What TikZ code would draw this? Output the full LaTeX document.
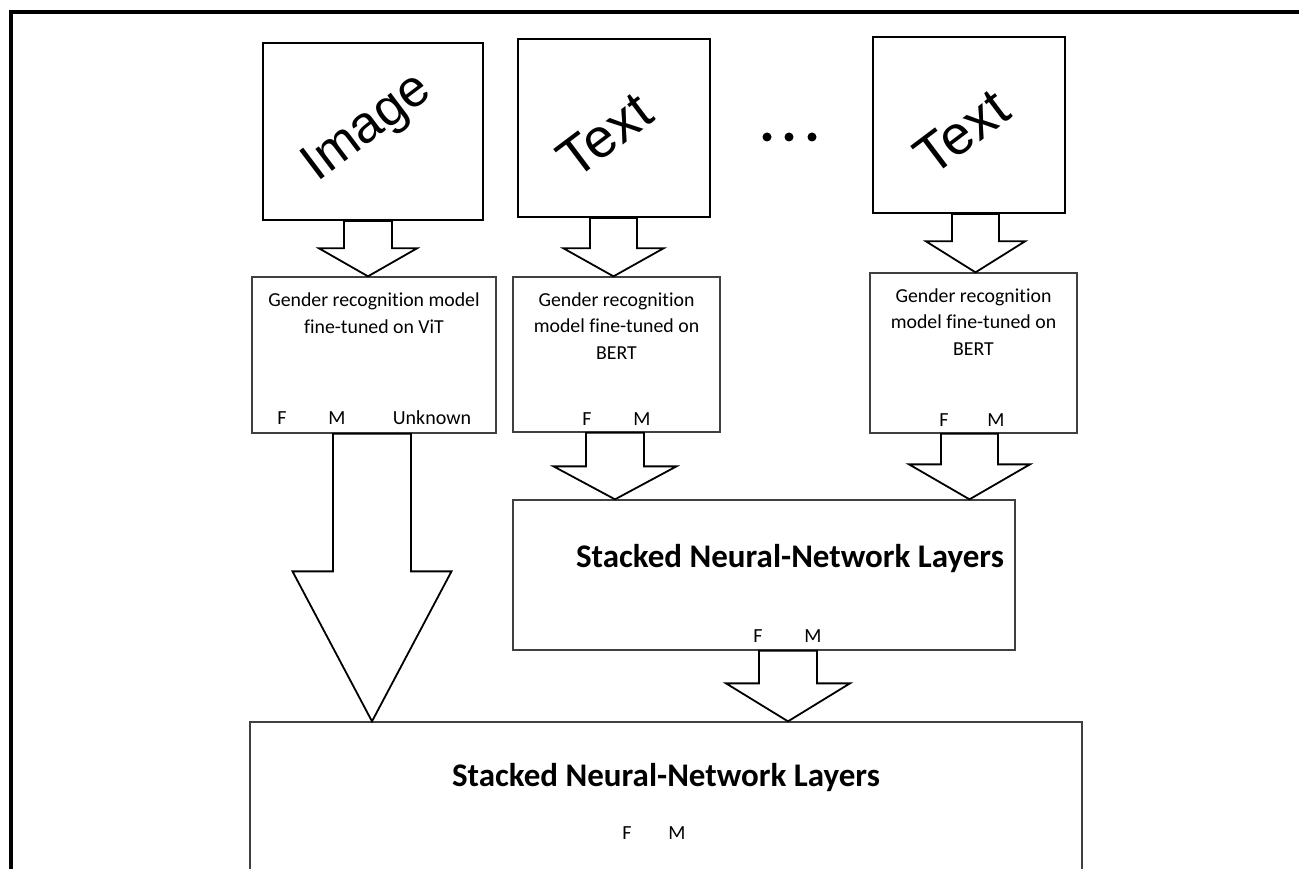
\documentclass[tikz,border=0pt]{standalone}
\usepackage{fontspec}
\setmainfont[Ligatures=NoCommon]{Carlito}
\newfontfamily\arialfont{Liberation Sans}
\usetikzlibrary{calc}

\tikzset{
  srcbox/.style={draw=black, line width=2pt, fill=white, inner sep=0pt},
  modelbox/.style={draw=black!75, line width=1.3pt, fill=white, inner sep=0pt},
  stackbox/.style={draw=black!75, line width=1.3pt, fill=white, inner sep=0pt},
  fatarr/.style={draw=black, line width=1.8pt, fill=white, line join=miter},
  bigword/.style={font=\arialfont\fontsize{#1}{60}\selectfont, rotate=37, inner sep=0pt},
  modeltxt/.style={font=\fontsize{19.8}{26.5}\selectfont, align=center, text=black, inner sep=0pt},
  outlbl/.style={font=\fontsize{20}{22}\selectfont, text=black, inner sep=0pt},
  stacktxt/.style={font=\bfseries\fontsize{33}{38}\selectfont, inner sep=0pt},
  dot/.style={circle, fill=black, inner sep=0pt, minimum size=9pt},
  frame/.style={line width=3.5pt, draw=black}
}

% block arrow: #1 source node, #2 target node, #3 centre x,
% #4 half shaft width, #5 half head width, #6 head length
\newcommand\fatarrow[6]{%
  \draw[fatarr]
    ($(#1.south -| #3,0)+(-#4,0)$) --
    ($(#2.north -| #3,0)+(-#4,-#6)$) --
    ($(#2.north -| #3,0)+(-#5,-#6)$) --
    (#2.north -| #3,0) --
    ($(#2.north -| #3,0)+(#5,-#6)$) --
    ($(#2.north -| #3,0)+(#4,-#6)$) --
    ($(#1.south -| #3,0)+(#4,0)$) -- cycle;}

\begin{document}
\begin{tikzpicture}[x=1pt, y=-1pt]
  \useasboundingbox (0,0) rectangle (1299,869);
  \clip (0,0) rectangle (1299,869);
  \fill[white] (0,0) rectangle (1299,869);

  % page frame
  \draw[frame] (11,900) -- (11,12) -- (1320,12);

  % inputs
  \node[srcbox, minimum width=220pt, minimum height=177pt] (img)  at (373,131.5) {};
  \node[srcbox, minimum width=192pt, minimum height=178pt] (txt1) at (614,128) {};
  \node[srcbox, minimum width=192pt, minimum height=176pt] (txt2) at (969,125) {};
  \node[bigword=52] (imgw)  at (368,129) {Image};
  \node[bigword=55] (txt1w) at (605,135) {Text};
  \node[bigword=55] (txt2w) at (962,132) {Text};

  \node[dot] (d1) at (767,137) {};
  \node[dot] (d2) at (789,137) {};
  \node[dot] (d3) at (812,137) {};

  % per-modality models
  \node[modelbox, minimum width=244pt, minimum height=156pt] (vit)   at (374,355) {};
  \node[modelbox, minimum width=207pt, minimum height=155pt] (bert1) at (616.5,354.5) {};
  \node[modelbox, minimum width=207pt, minimum height=160pt] (bert2) at (973.5,353) {};

  \node[modeltxt] (vitt)   at (374,313) {Gender recognition model\\fine-tuned on ViT};
  \node[modeltxt] (bert1t) at (616.5,326) {Gender recognition\\model fine-tuned on\\BERT};
  \node[modeltxt] (bert2t) at (973.5,322) {Gender recognition\\model fine-tuned on\\BERT};

  \node[outlbl] (vitF) at (282,418) {F};
  \node[outlbl] (vitM) at (337,418) {M};
  \node[outlbl] (vitU) at (432,418) {Unknown};
  \node[outlbl] (b1F) at (587,419) {F};
  \node[outlbl] (b1M) at (642,419) {M};
  \node[outlbl] (b2F) at (944,420) {F};
  \node[outlbl] (b2M) at (996,420) {M};

  % stacked layers
  \node[stackbox, minimum width=502pt, minimum height=150pt] (snn1) at (764,575) {};
  \node[stackbox, minimum width=832pt, minimum height=200pt] (snn2) at (666,822) {};

  \node[stacktxt] (snn1t) at (790,559) {Stacked Neural-Network Layers};
  \node[outlbl] (s1F) at (758,636) {F};
  \node[outlbl] (s1M) at (813,636) {M};

  \node[stacktxt] (snn2t) at (666,778) {Stacked Neural-Network Layers};
  \node[outlbl] (s2F) at (627,833) {F};
  \node[outlbl] (s2M) at (677,833) {M};

  % block arrows
  \fatarrow{img}{vit}{368}{24}{49}{28}
  \fatarrow{txt1}{bert1}{613.5}{23.5}{50}{28}
  \fatarrow{txt2}{bert2}{975.5}{23.5}{49.5}{31}
  \fatarrow{vit}{snn2}{372}{39}{79.5}{150}
  \fatarrow{bert1}{snn1}{615}{29}{61.5}{33}
  \fatarrow{bert2}{snn1}{969.5}{28.5}{60.5}{35}
  \fatarrow{snn1}{snn2}{788}{29}{62}{38}
\end{tikzpicture}
\end{document}
